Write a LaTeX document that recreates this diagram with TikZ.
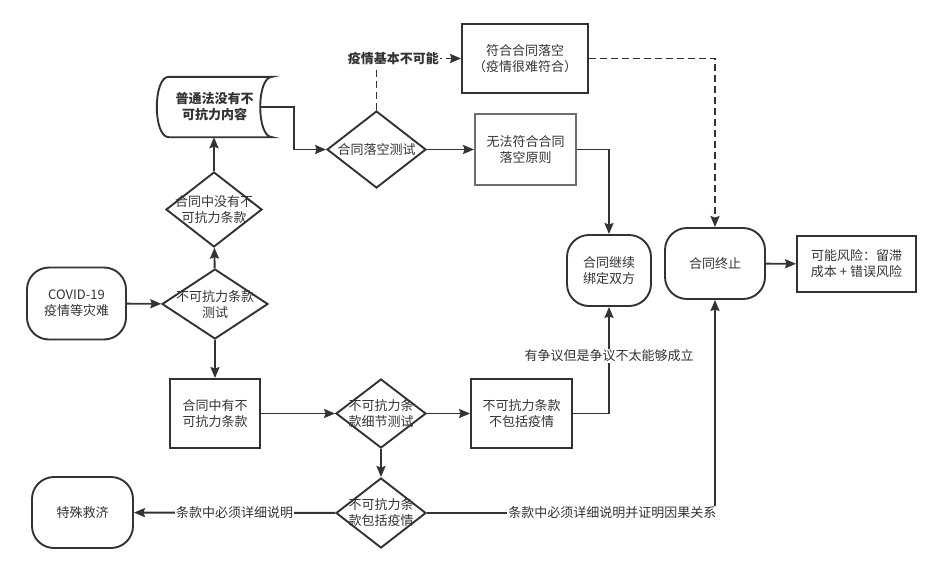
\documentclass[tikz,border=0pt]{standalone}
\usepackage{fontspec}
\setmainfont{Noto Sans CJK SC}
\usepackage{xcolor}
\usepackage{tikz}
\usetikzlibrary{shapes.geometric,arrows.meta,calc}
\definecolor{linegray}{RGB}{51, 51, 51}
\definecolor{lightedge}{RGB}{110, 110, 110}

\begin{document}
\begin{tikzpicture}[x=1pt, y=-1pt, >={Stealth[length=11pt,width=9pt,inset=1.5pt]},
        every node/.style={font=\fontsize{13}{16}\selectfont, text=linegray, align=center},
        line/.style={draw=linegray, line width=1.9pt},
        flow/.style={line, ->},
        dflow/.style={line, ->, dash pattern=on 7pt off 4pt},
        box/.style={line, rectangle, inner sep=0pt},
        terminal/.style={line, rectangle, rounded corners=22pt, inner sep=0pt},
        decision/.style={line, diamond, inner sep=0pt},
        lbl/.style={fill=white, inner sep=1pt}]
        \useasboundingbox (0,0) rectangle (941,573);

        % Start and force majeure test
        \node[terminal, minimum width=99pt, minimum height=72pt] (covid) at (76.5,303.5) {COVID-19\\疫情等灾难};
        \node[decision, minimum width=106pt, minimum height=70pt] (fmtest) at (215,304) {};
        \node at (fmtest) {不可抗力条款\\测试};

        % No clause in the contract
        \node[decision, minimum width=96pt, minimum height=75pt] (noclause) at (214,209.5) {};
        \node at (noclause) {合同中没有不\\可抗力条款};
        \node[minimum width=115pt, minimum height=60pt, font=\fontsize{13}{16}\selectfont\bfseries] (law) at (214.5,107) {普通法没有不\\可抗力内容};
        \draw[line] ([xshift=12pt]law.north west) -- (law.north east)
            .. controls ([xshift=-16pt]law.north east) and ([xshift=-16pt]law.south east) .. (law.south east)
            -- ([xshift=12pt]law.south west)
            .. controls ([xshift=-4pt]law.south west) and ([xshift=-4pt]law.north west) .. cycle;

        % Frustration test
        \node[decision, minimum width=99pt, minimum height=77pt] (frust) at (376.5,149.5) {};
        \node at (frust) {合同落空测试};
        \node[box, minimum width=126pt, minimum height=69pt] (fits) at (525,58.5) {符合合同落空\\（疫情很难符合）};
        \node[box, draw=lightedge, minimum width=101pt, minimum height=71pt] (nofit) at (525.5,149.5) {无法符合合同\\落空原则};

        % Outcomes
        \node[terminal, minimum width=84pt, minimum height=71pt] (binds) at (609,270.5) {合同继续\\绑定双方};
        \node[terminal, minimum width=100pt, minimum height=71pt] (ends) at (715,263.5) {合同终止};
        \node[box, minimum width=119pt, minimum height=56pt] (risk) at (856.5,264) {可能风险：留滞\\成本\ +\ 错误风险};

        % Clause in the contract
        \node[box, minimum width=90pt, minimum height=69pt] (clause) at (215,413.5) {合同中有不\\可抗力条款};
        \node[decision, minimum width=90pt, minimum height=69pt] (detail) at (381,413.5) {};
        \node at (detail) {不可抗力条\\款细节测试};
        \node[box, minimum width=101pt, minimum height=69pt] (excl) at (521.5,413.5) {不可抗力条款\\不包括疫情};
        \node[decision, minimum width=90pt, minimum height=70pt] (incl) at (381,513) {};
        \node at (incl) {不可抗力条\\款包括疫情};
        \node[terminal, minimum width=101pt, minimum height=71pt] (relief) at (82.5,512.5) {特殊救济};

        % Connectors
        \draw[flow] (covid) -- (fmtest);
        \draw[flow] (fmtest) -- (noclause);
        \draw[flow] (noclause.north) -- (noclause.north |- law.south);
        \draw[flow] ([xshift=-12pt]law.east) -- ++(34,0) |- (frust.west);
        \draw[flow] (frust) -- (nofit);
        \draw[dflow] (frust.north) |- node[pos=0.6, lbl, font=\fontsize{13}{16}\selectfont\bfseries] {疫情基本不可能} (fits.west);
        \draw[dflow] (fits.east) -| (ends.north);
        \draw[flow] (nofit.east) -| (binds.north);
        \draw[flow] (ends) -- (risk);
        \draw[flow] (fmtest) -- (clause);
        \draw[flow] (clause) -- (detail);
        \draw[flow] (detail) -- (excl);
        \draw[flow] (excl.east) -| node[pos=0.77, lbl] {有争议但是争议不太能够成立} (binds.south);
        \draw[flow] (detail) -- (incl);
        \draw[flow] (incl) -- node[lbl] {条款中必须详细说明} (relief);
        \draw[flow] (incl.east) -| node[pos=0.322, lbl] {条款中必须详细说明并证明因果关系} (ends.south);
\end{tikzpicture}
\end{document}
